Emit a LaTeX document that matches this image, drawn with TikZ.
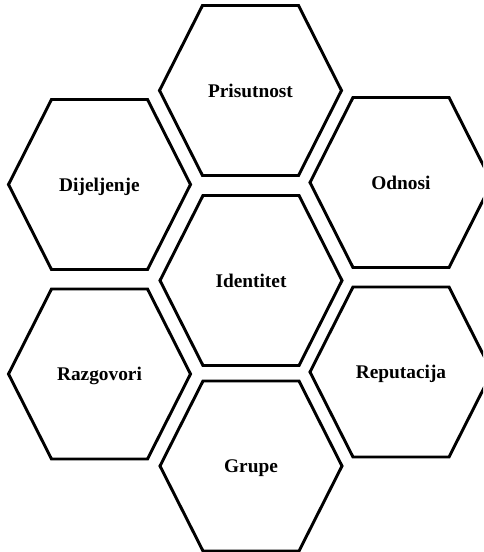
\documentclass[tikz,border=0pt]{standalone}
\usepackage{fontspec}
\setmainfont{Liberation Serif}

\tikzset{
    wabe/.style={draw, line width=2.2pt, line join=miter},
    titel/.style={font=\bfseries\fontsize{14.5}{17}\selectfont, inner sep=0pt, text depth=0pt}
}
% flat hexagon round a named point
\newcommand{\sechseck}[1]{%
    \draw[wabe, shift={(#1)}] (-91,0) -- (-48,-85) -- (48,-85) -- (91,0)
        -- (48,85) -- (-48,85) -- cycle;}

\begin{document}
\begin{tikzpicture}[x=0.75pt, y=-0.75pt]
    \clip (0,0) rectangle (483,552);
    \path coordinate (P) at (250.5,90.5)
        coordinate (D) at (99.5,184.5)
        coordinate (O) at (401,182.5)
        coordinate (I) at (251,280.5)
        coordinate (Rz) at (99.5,374)
        coordinate (Rp) at (401,372)
        coordinate (G) at (251,466);
    \sechseck{P}
    \sechseck{D}
    \sechseck{O}
    \sechseck{I}
    \sechseck{Rz}
    \sechseck{Rp}
    \sechseck{G}
    \path node[titel] (prisutnost) at (P) {Prisutnost}
        node[titel] (dijeljenje) at (D) {Dijeljenje}
        node[titel] (odnosi) at (O) {Odnosi}
        node[titel] (identitet) at (I) {Identitet}
        node[titel] (razgovori) at (Rz) {Razgovori}
        node[titel] (reputacija) at (Rp) {Reputacija}
        node[titel] (grupe) at (G) {Grupe};
\end{tikzpicture}
\end{document}
